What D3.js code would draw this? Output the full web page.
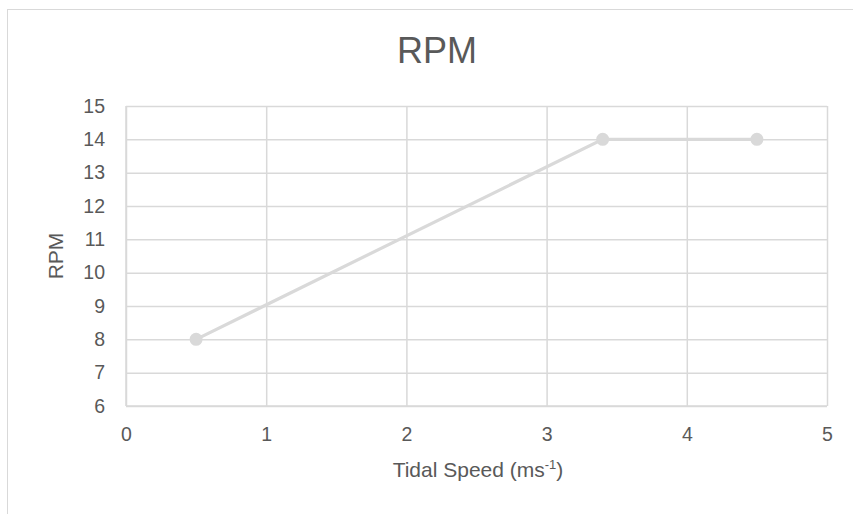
<!DOCTYPE html>
<html>
<head>
<meta charset="utf-8">
<script src="https://cdn.jsdelivr.net/npm/d3@7"></script>
<style>
  html, body { margin: 0; padding: 0; background: #fff; }
  svg { display: block; font-family: "Liberation Sans", Arial, sans-serif; }
</style>
</head>
<body>
<svg id="chart" width="853" height="514"></svg>
<script>
// Tidal speed (m/s) against rotor RPM
const speeds = [0.5, 3.4, 4.5];
const rpm = [8, 14, 14];
const xTicks = [0, 1, 2, 3, 4, 5];
const yTicks = [6, 7, 8, 9, 10, 11, 12, 13, 14, 15];

const svg = d3.select("#chart");
const W = 853, H = 514;
const plot = { left: 126, right: 827, top: 106, bottom: 406 };
const grid = "#d9d9d9", text = "#595959";

// chart frame
svg.append("rect")
  .attr("x", 7.5).attr("y", 9.5)
  .attr("width", W).attr("height", H)
  .attr("fill", "#fff").attr("stroke", "#d9d9d9").attr("stroke-width", 1);

const x = d3.scaleLinear().domain([0, 5]).range([plot.left, plot.right]);
const y = d3.scaleLinear().domain([6, 15]).range([plot.bottom, plot.top]);

// gridlines
const xAxis = d3.axisBottom(x).tickValues(xTicks)
  .tickSize(-(plot.bottom - plot.top)).tickPadding(21).tickFormat(d3.format("d"));
const yAxis = d3.axisLeft(y).tickValues(yTicks)
  .tickSize(-(plot.right - plot.left)).tickPadding(21).tickFormat(d3.format("d"));

const gx = svg.append("g").attr("transform", `translate(0,${plot.bottom})`).call(xAxis);
const gy = svg.append("g").attr("transform", `translate(${plot.left},0)`).call(yAxis);

[gx, gy].forEach(g => {
  g.select(".domain").remove();
  g.selectAll(".tick line").attr("stroke", grid).attr("stroke-width", 1.5);
  g.selectAll(".tick text").attr("fill", text).attr("font-size", 19.5);
});
// axis baselines
svg.append("line").attr("x1", plot.left).attr("x2", plot.right)
  .attr("y1", plot.bottom).attr("y2", plot.bottom).attr("stroke", grid).attr("stroke-width", 1.5);
svg.append("line").attr("x1", plot.left).attr("x2", plot.left)
  .attr("y1", plot.top).attr("y2", plot.bottom).attr("stroke", grid).attr("stroke-width", 1.5);

// series line and markers
const pts = speeds.map((s, i) => [s, rpm[i]]);
svg.append("path")
  .datum(pts)
  .attr("fill", "none").attr("stroke", "#d9d9d9").attr("stroke-width", 3.2)
  .attr("d", d3.line().x(d => x(d[0])).y(d => y(d[1])));
svg.selectAll("circle.pt").data(pts).join("circle")
  .attr("class", "pt")
  .attr("cx", d => x(d[0])).attr("cy", d => y(d[1])).attr("r", 6.5)
  .attr("fill", "#d9d9d9");

// title
svg.append("text").attr("x", 437).attr("y", 63)
  .attr("text-anchor", "middle").attr("fill", text).attr("font-size", 36)
  .text("RPM");

// x axis title with superscript
const xt = svg.append("text").attr("x", 478).attr("y", 477)
  .attr("text-anchor", "middle").attr("fill", text).attr("font-size", 21);
xt.append("tspan").text("Tidal Speed (ms");
xt.append("tspan").attr("font-size", 13).attr("dy", -8).text("-1");
xt.append("tspan").attr("dy", 8).text(")");

// y axis title
svg.append("text")
  .attr("transform", `translate(63,${(plot.top + plot.bottom) / 2}) rotate(-90)`)
  .attr("text-anchor", "middle").attr("fill", text).attr("font-size", 21)
  .text("RPM");
</script>
</body>
</html>
